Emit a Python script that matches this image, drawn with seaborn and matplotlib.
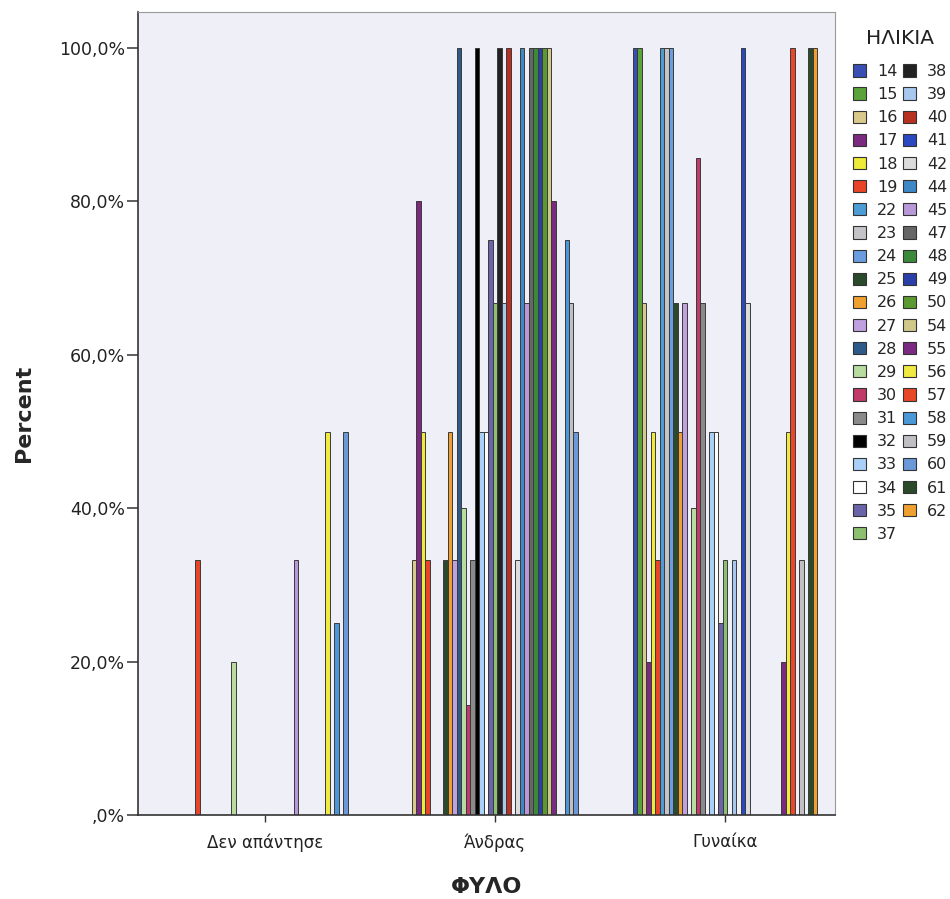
import pandas as pd
import matplotlib
matplotlib.use("Agg")
import matplotlib.pyplot as plt
from matplotlib.patches import Patch
from matplotlib.ticker import FuncFormatter
import seaborn as sns

genders = ["Δεν απάντησε", "Άνδρας", "Γυναίκα"]
ages = [14, 15, 16, 17, 18, 19, 22, 23, 24, 25, 26, 27, 28, 29, 30, 31, 32, 33, 34, 35, 37,
        38, 39, 40, 41, 42, 44, 45, 47, 48, 49, 50, 54, 55, 56, 57, 58, 59, 60, 61, 62]

# percent of each age group per gender
no_answer = [0, 0, 0, 0, 0, 33.3, 0, 0, 0, 0, 0, 0, 0, 20, 0, 0, 0, 0, 0, 0, 0,
             0, 0, 0, 0, 0, 0, 33.3, 0, 0, 0, 0, 0, 0, 50, 0, 25, 0, 50, 0, 0]
men = [0, 0, 33.3, 80, 50, 33.3, 0, 0, 0, 33.3, 50, 33.3, 100, 40, 14.3, 33.3, 100, 50, 50, 75, 66.7,
       100, 66.7, 100, 0, 33.3, 100, 66.7, 100, 100, 100, 100, 100, 80, 0, 0, 75, 66.7, 50, 0, 0]
women = [100, 100, 66.7, 20, 50, 33.3, 100, 100, 100, 66.7, 50, 66.7, 0, 40, 85.7, 66.7, 0, 50, 50, 25, 33.3,
         0, 33.3, 0, 100, 66.7, 0, 0, 0, 0, 0, 0, 0, 20, 50, 100, 0, 33.3, 0, 100, 100]

colors = ["#3a4fb5", "#5aa33a", "#d9c98a", "#7b2a7f", "#eeea3a", "#e8442a", "#4c9cd6",
          "#c4c4c8", "#6a9de0", "#2b4a2b", "#f0a030", "#c0a0de", "#2e5a8a", "#b8dca0",
          "#c03a6a", "#8a8a8a", "#000000", "#a8d0f8", "#ffffff", "#6a64a8", "#8cc070",
          "#222222", "#a8c8f0", "#b83020", "#2a48c0", "#dcdcdc", "#3f88c8", "#b898d8",
          "#666666", "#3a8a3a", "#2a40a8", "#5a9a30", "#d0c888", "#7a2a80", "#f0ea40",
          "#e84828", "#4a98d8", "#c0c0c4", "#6a98d8", "#2a4a2a", "#f0a030"]

rows = []
for g, vals in zip(genders, [no_answer, men, women]):
    for a, v in zip(ages, vals):
        if v > 0:
            rows.append({"gender": g, "age": str(a), "percent": v})
df = pd.DataFrame(rows)

age_labels = [str(a) for a in ages]
palette = dict(zip(age_labels, colors))

sns.set_style("white")
plt.rcParams["font.family"] = ["DejaVu Sans"]

fig = plt.figure(figsize=(9.5, 8.99), dpi=100)
ax = fig.add_axes([0.145, 0.0934, 0.734, 0.8933])
ax.set_facecolor("#eeeff7")

sns.barplot(data=df, x="gender", y="percent", hue="age", order=genders,
            hue_order=age_labels, palette=palette, width=0.8, saturation=1,
            edgecolor="#3a3a3a", linewidth=0.7, errorbar=None, legend=False, ax=ax)

ax.set_xlim(-0.552, 2.478)
ax.set_ylim(0, 104.7)
ax.set_yticks([0, 20, 40, 60, 80, 100])
ax.yaxis.set_major_formatter(FuncFormatter(
    lambda v, p: ",0%" if v == 0 else f"{v:.1f}%".replace(".", ",")))
ax.tick_params(axis="y", length=8, width=1.2, color="#444444", labelsize=12.5, pad=1,
               left=True, labelcolor="#222222")
ax.tick_params(axis="x", length=5, width=1, color="#333333", labelsize=12, pad=8,
               bottom=True, labelcolor="#222222")

for s in ["top", "right"]:
    ax.spines[s].set_color("#9a9a9a")
    ax.spines[s].set_linewidth(0.8)
for s in ["left", "bottom"]:
    ax.spines[s].set_color("#333333")
    ax.spines[s].set_linewidth(1.2)

ax.set_ylabel("Percent", fontsize=16, fontweight="bold", labelpad=18)
ax.set_xlabel("ΦΥΛΟ", fontsize=16, fontweight="bold", labelpad=18)

# legend title drawn separately for spacing
fig.text(900 / 950, 1 - 38 / 899, "ΗΛΙΚΙΑ", fontsize=14.5, ha="center", va="center",
         color="#222222")
handles = [Patch(facecolor=c, edgecolor="#333333", linewidth=0.8) for c in colors]
leg = fig.legend(handles, age_labels, loc="upper left", bbox_to_anchor=(853 / 950, 1 - 64 / 899),
                 ncol=2, frameon=False, fontsize=11.5,
                 handlelength=0.8, handleheight=0.8,
                 handletextpad=0.7, columnspacing=0.35, labelspacing=0.51,
                 borderaxespad=0, borderpad=0)

fig.savefig("out.png", dpi=100, facecolor="white")
